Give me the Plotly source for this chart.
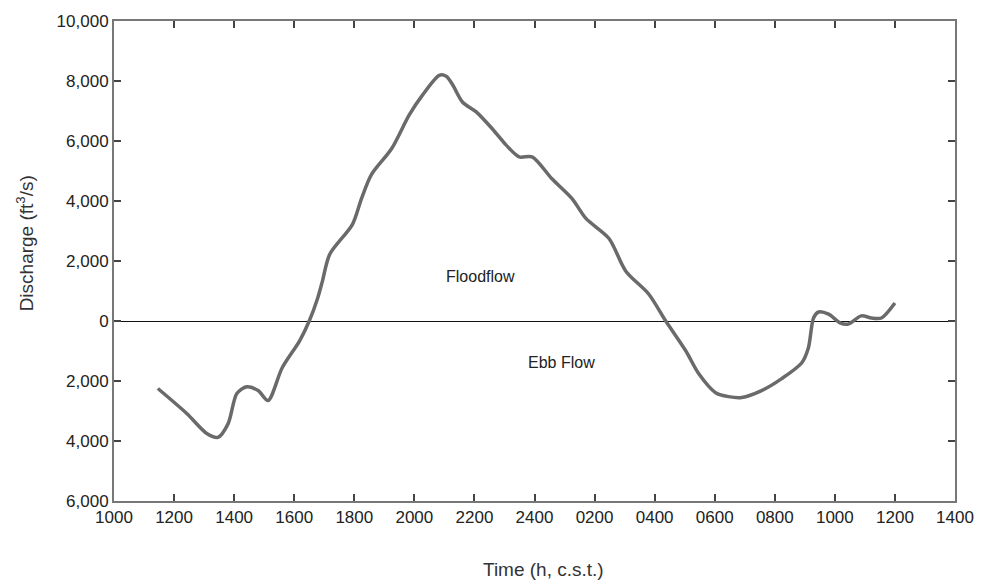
import plotly.graph_objects as go

# Time in hours from 1000 (day 1); 24 = midnight, values beyond 24 are next day
hours = [11.46, 12.43, 13.09, 13.46, 13.8, 14.09, 14.42, 14.8, 15.13, 15.6, 16.18, 16.5,
         16.78, 16.94, 17.18, 17.94, 18.24, 18.57, 19.24, 19.83, 20.27, 20.83, 21.06,
         21.26, 21.6, 22.06, 22.6, 23.05, 23.49, 23.92, 24.58, 25.25, 25.71, 26.48,
         27.04, 27.8, 28.37, 29.04, 29.47, 30.03, 30.46, 30.9, 31.56, 32.23, 32.9,
         33.12, 33.29, 33.46, 33.79, 34.19, 34.45, 34.88, 35.22, 35.55, 36.0]
discharge = [-2250, -3090, -3750, -3880, -3420, -2420, -2190, -2320, -2650, -1560, -660, 0,
             760, 1330, 2220, 3220, 4080, 4880, 5740, 6870, 7530, 8190, 8160,
             7900, 7300, 6970, 6400, 5870, 5470, 5470, 4740, 4080, 3420, 2750,
             1660, 900, 0, -1000, -1760, -2390, -2520, -2550, -2320, -1920, -1390,
             -890, 100, 300, 230, -70, -100, 170, 100, 100, 600]

x_tickvals = [10, 12, 14, 16, 18, 20, 22, 24, 26, 28, 30, 32, 34, 36, 38]
x_ticktext = ["1000", "1200", "1400", "1600", "1800", "2000", "2200", "2400",
              "0200", "0400", "0600", "0800", "1000", "1200", "1400"]
y_tickvals = [-6000, -4000, -2000, 0, 2000, 4000, 6000, 8000, 10000]
y_ticktext = ["6,000", "4,000", "2,000", "0", "2,000", "4,000", "6,000", "8,000", "10,000"]

fig = go.Figure()
fig.add_trace(go.Scatter(
    x=hours, y=discharge, mode="lines",
    line=dict(color="#6a6a6a", width=3.5, shape="spline", smoothing=0.8),
    showlegend=False, hoverinfo="skip"))

font_family = "Liberation Sans, Arial, sans-serif"
fig.update_layout(
    width=986, height=584,
    margin=dict(l=114, r=29, t=17, b=83),
    paper_bgcolor="white", plot_bgcolor="white",
    font=dict(family=font_family, color="#222222", size=17),
    xaxis=dict(range=[10, 38], tickvals=x_tickvals, ticktext=x_ticktext,
               showgrid=False, zeroline=False, showline=True, linecolor="#777777",
               linewidth=2, mirror="ticks", ticks="inside", ticklen=7,
               tickcolor="#444444", tickwidth=1.5,
               tickfont=dict(size=17, color="#222222")),
    yaxis=dict(range=[-6000, 10000], tickvals=y_tickvals, ticktext=y_ticktext,
               showgrid=False, zeroline=True, zerolinecolor="#111111", zerolinewidth=1,
               showline=True, linecolor="#777777", linewidth=2, mirror="ticks",
               ticks="inside", ticklen=7, tickcolor="#444444", tickwidth=1.5,
               tickfont=dict(size=17, color="#222222")),
    annotations=[
        dict(text="Discharge (ft<sup>3</sup>/s)", xref="paper", yref="paper",
             x=(25 - 114) / 843, y=(501 - 241) / 484, textangle=-90, showarrow=False,
             font=dict(size=19, color="#333333"), xanchor="center", yanchor="middle"),
        dict(text="Time (h, c.s.t.)", xref="paper", yref="paper",
             x=(545 - 114) / 843, y=(501 - 570) / 484, showarrow=False,
             font=dict(size=19, color="#333333"), xanchor="center", yanchor="middle"),
        dict(text="Floodflow", x=22.2, y=1490, showarrow=False,
             font=dict(size=16, color="#222222")),
        dict(text="Ebb Flow", x=24.9, y=-1390, showarrow=False,
             font=dict(size=16, color="#222222")),
    ],
)

fig.write_html("out.html")
